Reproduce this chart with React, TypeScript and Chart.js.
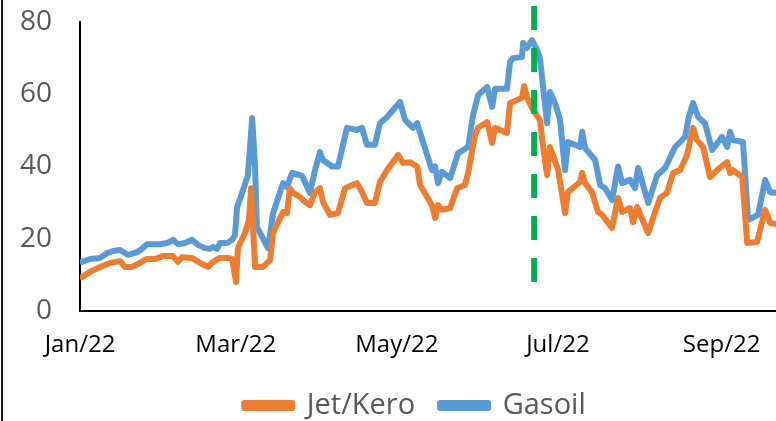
import React, { useEffect, useRef } from "react";
import { Chart, registerables } from "chart.js";

Chart.register(...registerables);

// x values are days since 1 Jan 2022
const monthTickDays = [0, 59, 120, 181, 243];
const monthTickLabels = ["Jan/22", "Mar/22", "May/22", "Jul/22", "Sep/22"];
// the picture is cut at the right edge of the original chart
const xAxisMaxDay = 263.6;

const jetLabel = "Jet/Kero";
const jetDays = [
  0.8, 4.5, 7.6, 11.4, 15.2, 17.0, 19.7, 22.7, 25.4, 28.4, 31.4, 35.2, 37.1, 38.6, 42.4, 45.5, 48.5, 50.4, 53.0, 56.1,
  57.6, 59.1, 59.8, 62.5, 64.0, 64.8, 66.3, 69.3, 72.0, 73.1, 76.9, 78.4, 79.5, 80.7, 83.3, 85.2, 87.1, 89.0, 90.9, 92.0,
  94.7, 97.7, 100.4, 104.9, 106.8, 108.7, 111.7, 113.6, 116.3, 120.5, 122.3, 125.0, 127.7, 128.8, 133.3, 134.5, 135.6, 137.1, 140.2, 142.8,
  145.8, 147.0, 149.6, 150.8, 154.2, 156.1, 157.2, 161.7, 162.9, 165.5, 167.4, 168.2, 169.3, 171.6, 174.2, 175.4, 176.9, 178.0, 181.1, 183.7,
  184.8, 189.4, 190.2, 191.3, 193.9, 196.2, 197.7, 201.5, 203.8, 205.3, 208.3, 209.5, 211.0, 215.2, 217.8, 219.7, 222.3, 224.6, 227.3, 229.9,
  232.2, 233.7, 236.0, 238.6, 241.3, 245.1, 246.2, 247.3, 250.8, 252.7, 256.4, 259.5, 261.4, 263.6,
];
const jetValues = [
  9.4, 11.1, 12.2, 13.3, 13.8, 12.2, 12.2, 13.3, 14.4, 14.4, 15.2, 15.2, 13.6, 14.9, 14.7, 13.3, 12.2, 13.6, 14.7, 14.7,
  14.4, 8.0, 17.4, 21.6, 25.2, 34.0, 12.2, 12.2, 14.1, 21.6, 27.4, 27.1, 34.0, 32.7, 31.6, 30.2, 29.3, 32.9, 34.0, 30.2,
  26.6, 27.1, 34.0, 35.4, 32.9, 29.9, 29.9, 35.7, 39.0, 43.2, 41.0, 41.2, 40.0, 34.9, 29.3, 25.7, 29.3, 28.0, 28.5, 34.0,
  34.9, 38.2, 48.7, 50.7, 52.3, 46.5, 50.7, 49.3, 57.6, 58.4, 59.0, 62.3, 59.2, 55.6, 52.9, 45.4, 37.6, 45.4, 39.0, 27.1,
  32.9, 35.7, 38.2, 35.4, 32.9, 27.4, 26.6, 23.0, 31.3, 27.4, 28.5, 24.6, 28.8, 21.6, 27.4, 31.3, 32.7, 38.2, 39.0, 43.2,
  50.7, 47.3, 45.4, 37.1, 39.0, 41.2, 38.2, 39.0, 37.1, 18.8, 19.1, 28.0, 24.4, 24.1,
];

const gasLabel = "Gasoil";
const gasDays = [
  0.8, 3.8, 7.6, 10.2, 12.5, 15.2, 18.2, 21.6, 23.5, 25.4, 30.3, 33.0, 35.2, 37.1, 39.8, 42.4, 44.7, 47.3, 49.2, 50.4,
  51.9, 53.0, 55.7, 57.6, 58.7, 59.5, 61.4, 63.6, 65.2, 66.3, 67.0, 71.2, 73.1, 76.9, 78.4, 80.3, 84.1, 87.1, 89.0, 90.9,
  92.0, 95.5, 97.7, 101.1, 104.9, 106.8, 108.7, 111.7, 113.6, 116.3, 121.2, 123.1, 126.1, 127.7, 128.8, 133.3, 134.5, 135.6, 137.1, 140.2,
  143.2, 147.0, 148.9, 150.8, 154.2, 156.1, 157.2, 161.7, 162.9, 164.0, 167.4, 167.8, 169.3, 171.2, 173.1, 174.2, 175.4, 176.9, 178.0, 179.9,
  181.8, 183.7, 184.8, 189.4, 190.2, 191.3, 195.1, 197.0, 198.9, 201.5, 203.8, 205.3, 208.3, 210.2, 211.4, 215.2, 218.6, 221.6, 225.4, 229.2,
  230.3, 232.2, 234.1, 236.7, 239.4, 243.2, 245.1, 246.2, 247.3, 251.1, 253.0, 256.8, 259.5, 261.4, 263.6,
];
const gasValues = [
  13.6, 14.4, 14.7, 16.0, 16.6, 16.9, 15.5, 16.3, 17.2, 18.5, 18.5, 18.8, 19.7, 18.5, 18.8, 19.7, 18.3, 17.4, 17.2, 17.7,
  17.2, 18.8, 18.8, 19.7, 21.0, 28.8, 32.7, 37.6, 53.4, 40.0, 23.3, 17.4, 27.0, 35.4, 34.3, 38.2, 37.4, 32.7, 39.0, 44.0,
  41.8, 40.0, 40.0, 50.7, 50.1, 50.7, 46.0, 46.0, 52.0, 53.7, 57.9, 52.9, 50.7, 52.0, 49.3, 39.0, 40.0, 35.4, 38.5, 36.8,
  43.7, 45.4, 54.3, 59.8, 62.0, 56.5, 61.5, 61.5, 69.0, 70.0, 70.3, 74.2, 72.8, 75.0, 72.2, 70.0, 62.0, 52.0, 60.6, 57.6,
  52.9, 39.0, 46.8, 45.4, 49.6, 45.1, 41.8, 34.9, 34.0, 30.7, 40.0, 35.4, 36.3, 34.0, 39.6, 29.9, 37.6, 39.6, 45.4, 48.2,
  52.9, 57.6, 53.7, 52.0, 44.6, 48.2, 45.4, 49.6, 47.3, 46.8, 25.2, 26.6, 36.3, 32.9, 32.7,
];

// vertical dashed marker
const markerDays = [172, 172];
const markerValues = [8, 84.4];

const yTicks = [0, 20, 40, 60, 80];

const toPoints = (xs: number[], ys: number[]) => xs.map((x, i) => ({ x, y: ys[i] }));

export default function App() {
  const canvasRef = useRef<HTMLCanvasElement | null>(null);

  useEffect(() => {
    document.body.style.margin = "0";
    const canvas = canvasRef.current;
    if (!canvas) return;
    const chart = new Chart(canvas, {
      type: "line",
      data: {
        datasets: [
          {
            label: "marker",
            data: toPoints(markerDays, markerValues),
            borderColor: "#00B050",
            backgroundColor: "#00B050",
            borderWidth: 6,
            borderDash: [24, 18],
            pointRadius: 0,
            clip: false as any,
            order: 0,
          },
          {
            label: jetLabel,
            data: toPoints(jetDays, jetValues),
            borderColor: "#ED7D31",
            backgroundColor: "#ED7D31",
            borderWidth: 6,
            borderJoinStyle: "round",
            borderCapStyle: "round",
            pointRadius: 0,
            tension: 0,
            order: 1,
          },
          {
            label: gasLabel,
            data: toPoints(gasDays, gasValues),
            borderColor: "#5B9BD5",
            backgroundColor: "#5B9BD5",
            borderWidth: 6,
            borderJoinStyle: "round",
            borderCapStyle: "round",
            pointRadius: 0,
            tension: 0,
            order: 2,
          },
        ],
      },
      options: {
        responsive: false,
        animation: false,
        layout: { padding: { top: 22, right: -54, left: 0, bottom: -9 } },
        plugins: {
          tooltip: { enabled: false },
          legend: {
            position: "bottom",
            fullSize: true,
            labels: {
              filter: (item: any) => item.text !== "marker",
              boxWidth: 48,
              boxHeight: 5,
              padding: 25,
              color: "#595959",
              font: { family: "'Open Sans'", size: 29 },
            },
          },
        },
        scales: {
          x: {
            type: "linear",
            min: 0,
            max: xAxisMaxDay,
            afterBuildTicks: (axis: any) => {
              axis.ticks = monthTickDays.map((v) => ({ value: v }));
            },
            afterFit: (axis: any) => {
              axis.height = 55;
              axis.paddingLeft = 0;
              axis.paddingRight = 0;
            },
            ticks: {
              autoSkip: false,
              maxRotation: 0,
              padding: 20,
              color: "#000000",
              font: { family: "'Open Sans'", size: 24 },
              callback: (value: any) => {
                const i = monthTickDays.indexOf(Number(value));
                return i >= 0 ? monthTickLabels[i] : "";
              },
            },
            grid: { display: false, drawTicks: false },
            border: { display: true, color: "#000000", width: 2 },
          },
          y: {
            min: 0,
            max: 80,
            afterBuildTicks: (axis: any) => {
              axis.ticks = yTicks.map((v) => ({ value: v }));
            },
            afterFit: (axis: any) => {
              axis.width = 80;
              axis.paddingTop = 0;
              axis.paddingBottom = 0;
            },
            ticks: {
              padding: 28,
              color: "#595959",
              font: { family: "'Open Sans'", size: 28 },
            },
            grid: { display: false, drawTicks: false },
            border: { display: true, color: "#000000", width: 2 },
          },
        },
      },
    } as any);
    return () => chart.destroy();
  }, []);

  return (
    <div style={{ position: "relative", width: 776, height: 421, background: "#ffffff", overflow: "hidden" }}>
      <canvas ref={canvasRef} width={776} height={421} style={{ display: "block" }} />
      <div style={{ position: "absolute", left: 1, top: 0, width: 2, height: 421, background: "#1a1a1a" }} />
    </div>
  );
}
